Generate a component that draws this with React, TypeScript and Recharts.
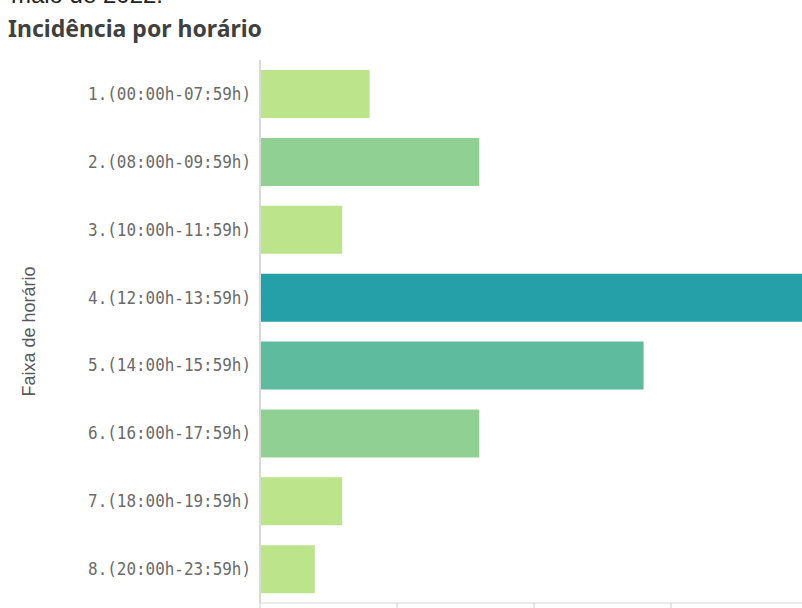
import React from 'react';
import { BarChart, Bar, XAxis, YAxis, Cell } from 'recharts';

const categories = [
  '1. (00:00h-07:59h)',
  '2. (08:00h-09:59h)',
  '3. (10:00h-11:59h)',
  '4. (12:00h-13:59h)',
  '5. (14:00h-15:59h)',
  '6. (16:00h-17:59h)',
  '7. (18:00h-19:59h)',
  '8. (20:00h-23:59h)',
];
const values = [4, 8, 3, 20, 14, 8, 3, 2];
const barColors = ['#bbe48b', '#90d193', '#bbe48b', '#25a0a8', '#5ebb9e', '#90d193', '#bbe48b', '#bbe48b'];
const xTicks = [0, 5, 10, 15, 20];

const data = categories.map((c, i) => ({ name: c.replace('. (', '.('), value: values[i] }));

const CatTick = (props: any) => {
  const { x, y, payload } = props;
  return (
    <g transform={`translate(${x},${y})`}>
      <text
        x={0}
        y={0}
        dy={6}
        textAnchor="end"
        transform="scale(0.885,1)"
        fontFamily="'DejaVu Sans Mono', monospace"
        fontSize={18}
        fill="#6a6a6a"
      >
        {payload.value}
      </text>
    </g>
  );
};

const NoLabel = () => <g />;

export default function App() {
  return (
    <div
      style={{
        position: 'fixed',
        top: 0,
        left: 0,
        width: 802,
        height: 608,
        overflow: 'hidden',
        background: '#fff',
      }}
    >
      <div
        style={{
          position: 'absolute',
          top: -19,
          right: 802 - 163,
          whiteSpace: 'nowrap',
          fontFamily: "'Liberation Sans', Arial, sans-serif",
          fontSize: 24,
          lineHeight: '28px',
          color: '#222',
        }}
      >
        maio de 2022.
      </div>
      <div
        style={{
          position: 'absolute',
          top: 12,
          left: 8,
          whiteSpace: 'nowrap',
          fontFamily: "'Noto Sans', sans-serif",
          fontWeight: 700,
          fontSize: 23,
          color: '#404040',
        }}
      >
        Incidência por horário
      </div>
      <div style={{ position: 'absolute', top: 0, left: 0 }}>
        <BarChart
          width={830}
          height={640}
          data={data}
          layout="vertical"
          margin={{ top: 60, right: 22, left: 0, bottom: 7 }}
        >
          <XAxis
            type="number"
            domain={[0, 20]}
            ticks={xTicks}
            axisLine={{ stroke: '#d6d6d6' }}
            tickLine={{ stroke: '#cccccc' }}
            tick={<NoLabel />}
            height={30}
          />
          <YAxis
            type="category"
            dataKey="name"
            width={260}
            axisLine={{ stroke: '#d9d9d9', strokeWidth: 2 }}
            tickLine={false}
            tickSize={0}
            tickMargin={9}
            tick={<CatTick />}
            interval={0}
            label={{
              value: 'Faixa de horário',
              angle: -90,
              position: 'insideLeft',
              offset: 29,
              style: {
                textAnchor: 'middle',
                fontFamily: "'Liberation Sans Narrow', 'Liberation Sans', Arial, sans-serif",
                fontSize: 18,
                fill: '#595959',
              },
            }}
          />
          <Bar dataKey="value" barSize={48} isAnimationActive={false}>
            {data.map((d, i) => (
              <Cell key={d.name} fill={barColors[i]} />
            ))}
          </Bar>
        </BarChart>
      </div>
    </div>
  );
}
